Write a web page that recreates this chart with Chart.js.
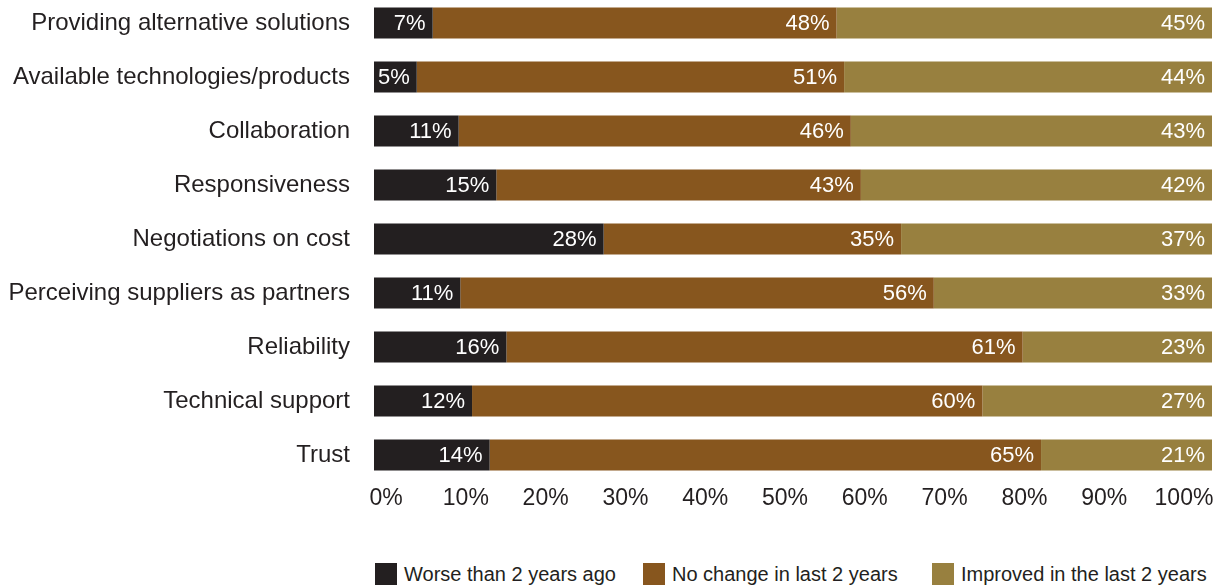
<!DOCTYPE html>
<html>
<head>
<meta charset="utf-8">
<script src="https://cdn.jsdelivr.net/npm/chart.js@4/dist/chart.umd.min.js"></script>
<style>
  html, body { margin: 0; padding: 0; background: #fff; }
  body { width: 1218px; height: 585px; position: relative; overflow: hidden; font-family: "Liberation Sans", Arial, sans-serif; }
  #wrap { position: absolute; left: 0; top: -4px; width: 1218px; height: 520px; }
  .leg-box { position: absolute; top: 563px; width: 22px; height: 22px; }
  .leg-text { position: absolute; top: 562px; font-size: 20px; line-height: 24px; color: #231f20; white-space: nowrap; }
</style>
</head>
<body>
<div id="wrap"><canvas id="chart"></canvas></div>
<div id="legend"></div>
<script>
// Categories, top to bottom
const categories = [
    'Providing alternative solutions',
    'Available technologies/products',
    'Collaboration',
    'Responsiveness',
    'Negotiations on cost',
    'Perceiving suppliers as partners',
    'Reliability',
    'Technical support',
    'Trust'
];

// Bar lengths (%)
const worse    = [7.0, 5.1, 10.1, 14.6, 27.4, 10.3, 15.8, 11.7, 13.8];
const noChange = [48.2, 51.0, 46.8, 43.5, 35.5, 56.5, 61.6, 60.9, 65.8];
const improved = [44.8, 43.9, 43.1, 41.9, 37.1, 33.2, 22.6, 27.4, 20.4];

// Printed labels (%)
const worseLabels    = [7, 5, 11, 15, 28, 11, 16, 12, 14];
const noChangeLabels = [48, 51, 46, 43, 35, 56, 61, 60, 65];
const improvedLabels = [45, 44, 43, 42, 37, 33, 23, 27, 21];

const tickValues = [0, 10, 20, 30, 40, 50, 60, 70, 80, 90, 100];

const seriesNames = ['Worse than 2 years ago', 'No change in last 2 years', 'Improved in the last 2 years'];
const seriesColors = ['#231f20', '#87561e', '#98803f'];
const legendX = [375, 643, 932];

const FONT = '"Liberation Sans", Arial, sans-serif';
const TEXT = '#231f20';

// White value labels, right-aligned inside each segment
const barLabels = {
    id: 'barLabels',
    afterDatasetsDraw(chart) {
        const ctx = chart.ctx;
        ctx.save();
        ctx.font = '22px ' + FONT;
        ctx.fillStyle = '#ffffff';
        ctx.textAlign = 'right';
        ctx.textBaseline = 'middle';
        chart.data.datasets.forEach((ds, i) => {
            const meta = chart.getDatasetMeta(i);
            meta.data.forEach((bar, j) => {
                ctx.fillText(ds.valueLabels[j] + '%', bar.x - 7, bar.y + 1);
            });
        });
        ctx.restore();
    }
};

const ctx = document.getElementById('chart').getContext('2d');
new Chart(ctx, {
    type: 'bar',
    data: {
        labels: categories,
        datasets: [
            { label: seriesNames[0], data: worse, valueLabels: worseLabels, backgroundColor: seriesColors[0] },
            { label: seriesNames[1], data: noChange, valueLabels: noChangeLabels, backgroundColor: seriesColors[1] },
            { label: seriesNames[2], data: improved, valueLabels: improvedLabels, backgroundColor: seriesColors[2] }
        ]
    },
    options: {
        indexAxis: 'y',
        responsive: true,
        maintainAspectRatio: false,
        animation: false,
        layout: { padding: { top: 0, right: 6, bottom: 6, left: 0 } },
        datasets: {
            bar: { barPercentage: 0.575, categoryPercentage: 1, borderWidth: 0 }
        },
        plugins: {
            legend: { display: false },
            tooltip: { enabled: false }
        },
        scales: {
            x: {
                stacked: true,
                min: 0,
                max: 100,
                display: false
            },
            // Tick row: the printed labels sit slightly inside the bar span
            x2: {
                type: 'linear',
                position: 'bottom',
                min: -1.506,
                max: 103.51,
                grid: { display: false, drawTicks: false },
                border: { display: false },
                afterBuildTicks(scale) {
                    scale.ticks = tickValues.map(v => ({ value: v }));
                },
                afterFit(scale) { scale.height = 28; },
                ticks: {
                    padding: 3,
                    autoSkip: false,
                    maxRotation: 0,
                    color: TEXT,
                    font: { family: FONT, size: 23 },
                    callback: v => v + '%'
                }
            },
            y: {
                stacked: true,
                grid: { display: false, drawTicks: false },
                border: { display: false },
                afterFit(scale) {
                    scale.width = 374;
                    scale.paddingTop = 0;
                    scale.paddingBottom = 0;
                },
                ticks: {
                    padding: 24,
                    color: TEXT,
                    font: { family: FONT, size: 24 }
                }
            }
        }
    },
    plugins: [barLabels]
});

// Legend below the chart
const legend = document.getElementById('legend');
seriesNames.forEach((name, i) => {
    const box = document.createElement('div');
    box.className = 'leg-box';
    box.style.left = legendX[i] + 'px';
    box.style.background = seriesColors[i];
    legend.appendChild(box);
    const txt = document.createElement('div');
    txt.className = 'leg-text';
    txt.style.left = (legendX[i] + 29) + 'px';
    txt.textContent = name;
    legend.appendChild(txt);
});
</script>
</body>
</html>
